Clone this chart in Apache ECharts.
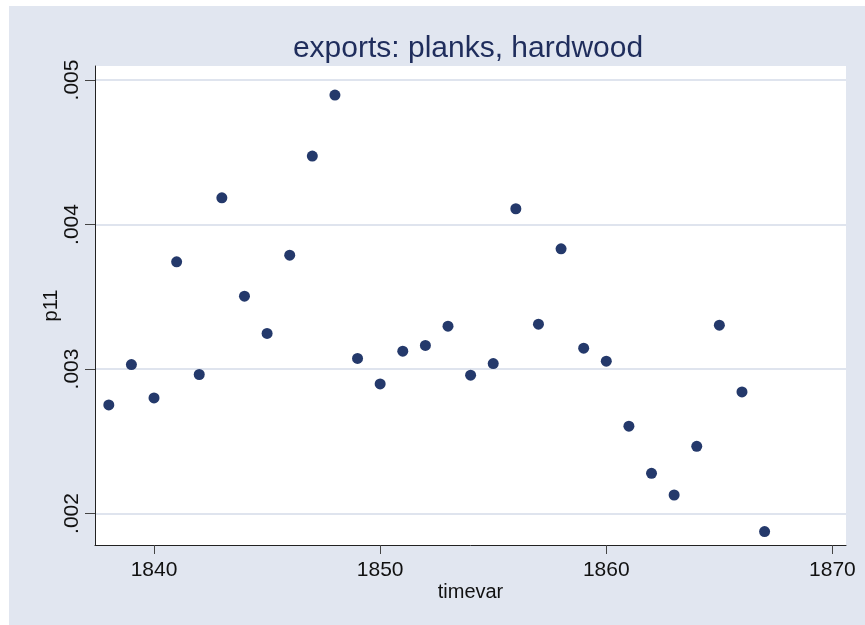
<!DOCTYPE html>
<html>
<head>
<meta charset="utf-8">
<script src="https://cdn.jsdelivr.net/npm/echarts@6/dist/echarts.min.js"></script>
<style>
  html, body { margin: 0; padding: 0; background: #ffffff; }
  #wrap { position: relative; width: 865px; height: 625px; background: #ffffff; }
  #panel { position: absolute; left: 9px; top: 6px; width: 856px; height: 619px; background: #e1e6f0; }
  #chart { position: absolute; left: 0; top: 0; width: 865px; height: 625px; }
</style>
</head>
<body>
<div id="wrap">
  <div id="panel"></div>
  <div id="chart"></div>
</div>
<script>
// Data
const years = [1838, 1839, 1840, 1841, 1842, 1843, 1844, 1845, 1846, 1847, 1848, 1849, 1850, 1851, 1852, 1853, 1854, 1855, 1856, 1857, 1858, 1859, 1860, 1861, 1862, 1863, 1864, 1865, 1866, 1867];
const p11 = [0.002751, 0.003031, 0.002800, 0.003742, 0.002962, 0.004185, 0.003504, 0.003246, 0.003788, 0.004474, 0.004896, 0.003073, 0.002897, 0.003123, 0.003163, 0.003296, 0.002957, 0.003038, 0.004109, 0.003310, 0.003832, 0.003144, 0.003054, 0.002604, 0.002278, 0.002128, 0.002465, 0.003303, 0.002841, 0.001875];
const xTickValues = [1840, 1850, 1860, 1870];
const xTickLabels = ['1840', '1850', '1860', '1870'];
const yTickValues = [0.002, 0.003, 0.004, 0.005];
const yTickLabels = ['.002', '.003', '.004', '.005'];

const points = years.map((y, i) => [y, p11[i]]);

function labelFor(values, labels) {
  return function (v) {
    for (let i = 0; i < values.length; i++) {
      if (Math.abs(values[i] - v) < 1e-9 * Math.max(1, Math.abs(v))) return labels[i];
    }
    return '';
  };
}

const chart = echarts.init(document.getElementById('chart'), null, { renderer: 'canvas' });
chart.setOption({
  backgroundColor: 'transparent',
  animation: false,
  title: {
    text: 'exports: planks, hardwood',
    left: 463,
    textAlign: 'center',
    top: 29,
    textStyle: { fontFamily: 'Liberation Sans, Arial, sans-serif', fontSize: 30, fontWeight: 'normal', color: '#1f2d5c' }
  },
  grid: {
    left: 95, right: 19, top: 66, bottom: 80,
    show: true, backgroundColor: '#ffffff', borderWidth: 0,
    containLabel: false
  },
  xAxis: {
    type: 'value',
    min: 1837.39,
    max: 1870.6,
    name: 'timevar',
    nameLocation: 'middle',
    nameGap: 37,
    nameMoveOverlap: false,
    nameTextStyle: { fontFamily: 'Liberation Sans, Arial, sans-serif', fontSize: 20, color: '#111' },
    axisLine: { show: true, lineStyle: { color: '#222', width: 1 } },
    axisTick: { show: true, customValues: xTickValues, length: 9, lineStyle: { color: '#444', width: 1 } },
    axisLabel: { customValues: xTickValues, formatter: labelFor(xTickValues, xTickLabels), fontFamily: 'Liberation Sans, Arial, sans-serif', fontSize: 21, color: '#111', margin: 15 },
    splitLine: { show: false }
  },
  yAxis: {
    type: 'value',
    min: 0.001782,
    max: 0.005097,
    name: 'p11',
    nameLocation: 'middle',
    nameGap: 34,
    nameRotate: 90,
    nameMoveOverlap: false,
    nameTextStyle: { fontFamily: 'Liberation Sans, Arial, sans-serif', fontSize: 20, color: '#111' },
    axisLine: { show: true, lineStyle: { color: '#222', width: 1 } },
    axisTick: { show: true, customValues: yTickValues, length: 10, lineStyle: { color: '#444', width: 1 } },
    axisLabel: { customValues: yTickValues, rotate: 90, formatter: labelFor(yTickValues, yTickLabels), fontFamily: 'Liberation Sans, Arial, sans-serif', fontSize: 21, color: '#111', margin: 12 },
    splitLine: { show: true, lineStyle: { color: '#dfe4ee', width: 2 } }
  },
  series: [{
    type: 'scatter',
    data: points,
    symbol: 'circle',
    symbolSize: 11,
    itemStyle: { color: '#24396b', opacity: 1 }
  }]
});
</script>
</body>
</html>
